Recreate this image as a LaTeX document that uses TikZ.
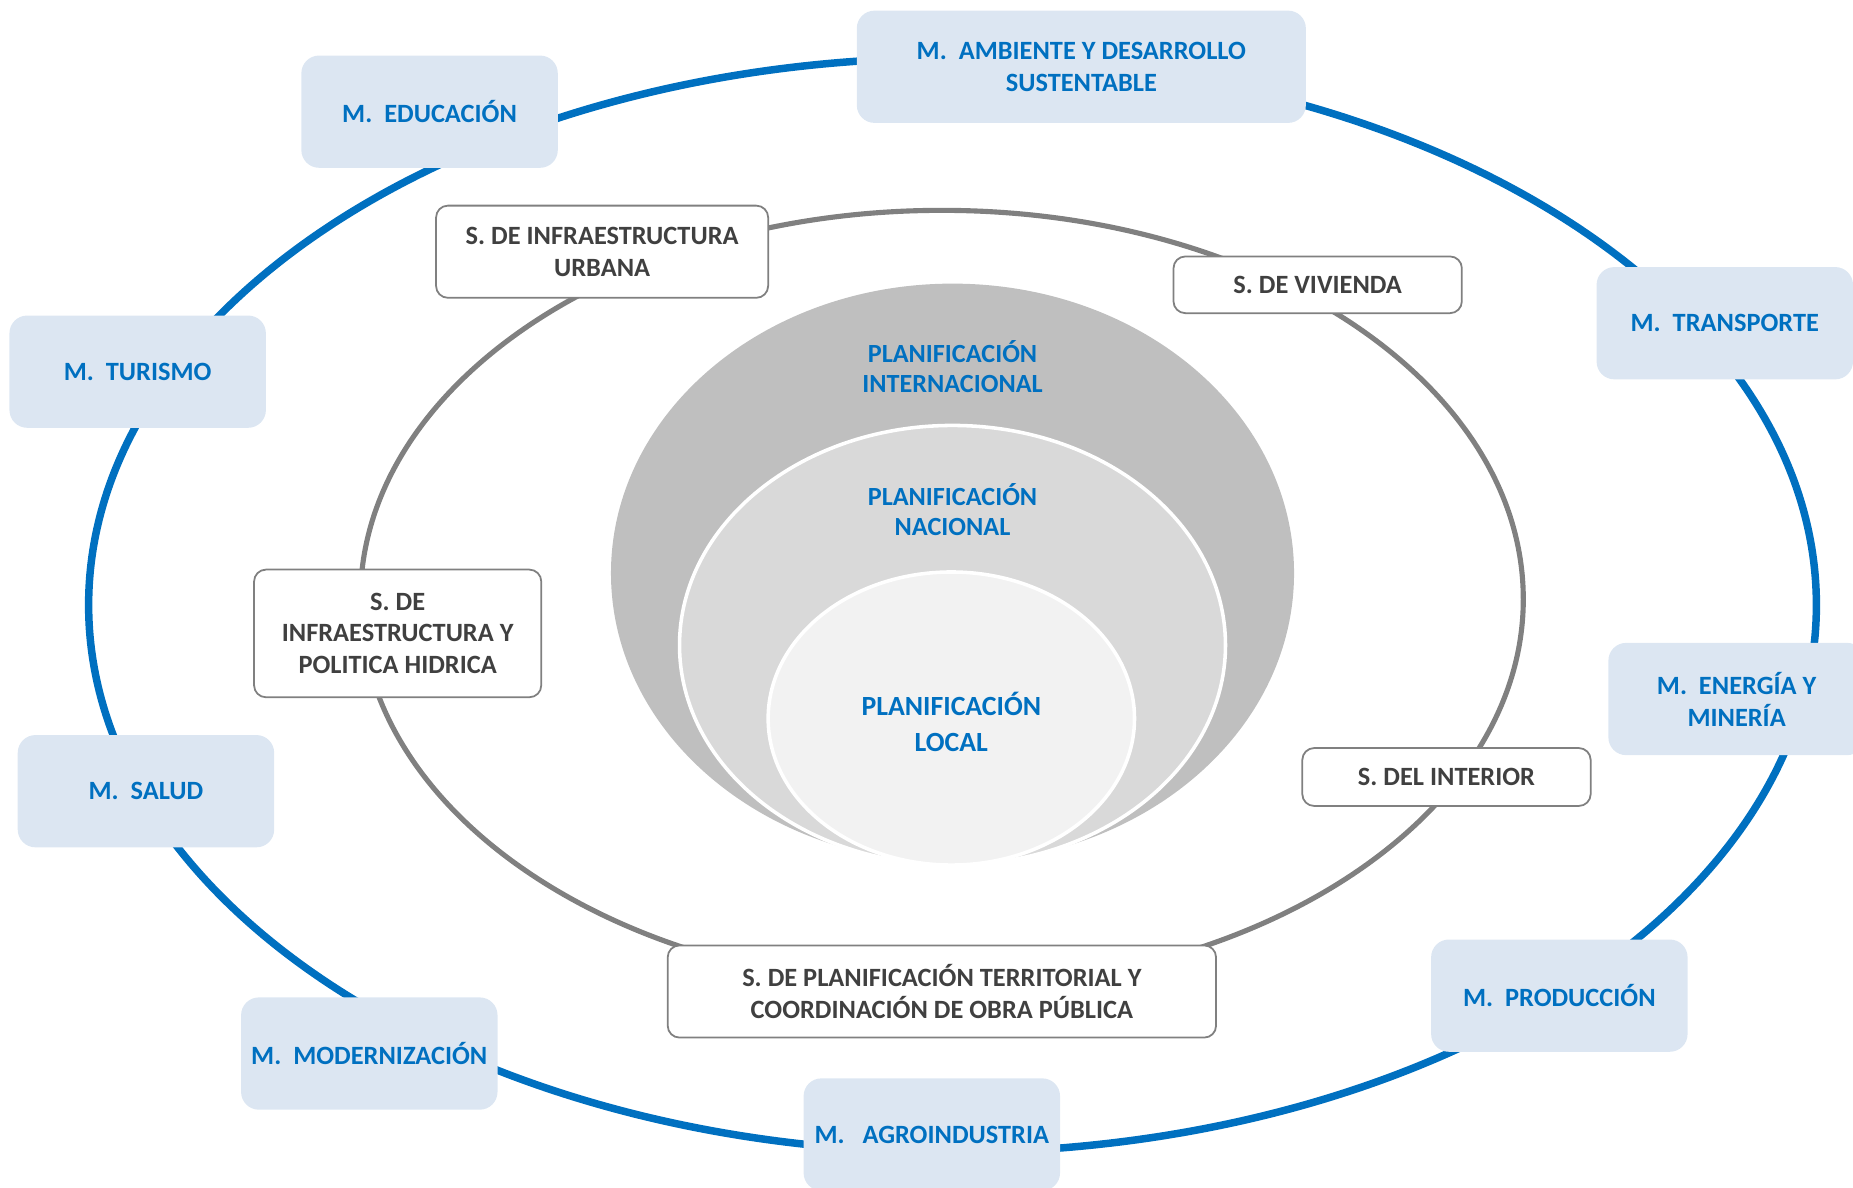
\documentclass[tikz,border=0pt]{standalone}
\usepackage{fontspec}
\setmainfont{Carlito}

\definecolor{azul}{HTML}{0070C0}
\definecolor{azulclaro}{HTML}{DCE6F2}
\definecolor{grislinea}{HTML}{808080}
\definecolor{gristexto}{HTML}{404040}
\definecolor{circulouno}{HTML}{BFBFBF}
\definecolor{circulodos}{HTML}{D9D9D9}
\definecolor{circulotres}{HTML}{F2F2F2}

\tikzset{
    ministerio/.style={fill=azulclaro, rounded corners=9pt, text=azul,
        font=\bfseries\fontsize{13.4}{16.2}\selectfont, align=center,
        minimum width=130.2pt, minimum height=57pt, inner sep=0pt},
    secretaria/.style={draw=grislinea, line width=0.9pt, fill=white,
        rounded corners=6pt, text=gristexto,
        font=\bfseries\fontsize{13.4}{16.2}\selectfont, align=center,
        inner sep=0pt},
    plan/.style={text=azul, font=\bfseries\fontsize{13.3}{15}\selectfont,
        align=center}
}

\begin{document}
\begin{tikzpicture}[x=0.6pt, y=-0.6pt]
    \useasboundingbox (0,0) rectangle (1568,1005);

    \draw[azul, line width=3.8pt] (806,512) ellipse [x radius=731, y radius=463];
    \draw[grislinea, line width=2.6pt] (797,507) ellipse [x radius=492, y radius=329];

    \fill[circulouno] (806,485) ellipse [x radius=289, y radius=245];
    \filldraw[fill=circulodos, draw=white, line width=1.8pt] (806,546) ellipse [x radius=231, y radius=186];
    \filldraw[fill=circulotres, draw=white, line width=1.8pt] (805,608) ellipse [x radius=155, y radius=124];

    \node[plan] (internacional) at (806,310) {PLANIFICACIÓN\\INTERNACIONAL};
    \node[plan] (nacional) at (806,431) {PLANIFICACIÓN\\NACIONAL};
    \node[plan, font=\bfseries\fontsize{14.1}{18}\selectfont] (local) at (805,611) {PLANIFICACIÓN\\LOCAL};

    \node[ministerio] (educacion) at (363.5,94.5) {M.\ \ EDUCACIÓN};
    \node[ministerio, minimum width=228pt] (ambiente) at (915,56.5) {M.\ \ AMBIENTE Y DESARROLLO\\SUSTENTABLE};
    \node[ministerio] (transporte) at (1459.5,273.5) {M.\ \ TRANSPORTE};
    \node[ministerio] (turismo) at (116.5,314.5) {M.\ \ TURISMO};
    \node[ministerio] (energia) at (1469.5,591.5) {M.\ \ ENERGÍA Y\\MINERÍA};
    \node[ministerio] (salud) at (123.5,669.5) {M.\ \ SALUD};
    \node[ministerio] (produccion) at (1319.5,842.5) {M.\ \ PRODUCCIÓN};
    \node[ministerio] (modernizacion) at (312.5,891.5) {M.\ \ MODERNIZACIÓN};
    \node[ministerio] (agroindustria) at (788.5,960) {M.\ \ \ AGROINDUSTRIA};

    \node[secretaria, minimum width=168.6pt, minimum height=46.8pt] (urbana) at (509.5,213) {S. DE INFRAESTRUCTURA\\URBANA};
    \node[secretaria, minimum width=146.4pt, minimum height=28.8pt] (vivienda) at (1115,241) {S. DE VIVIENDA};
    \node[secretaria, minimum width=145.8pt, minimum height=64.8pt] (hidrica) at (336.5,536) {S. DE\\INFRAESTRUCTURA Y\\POLITICA HIDRICA};
    \node[secretaria, minimum width=146.4pt, minimum height=29.4pt] (interior) at (1224,657.5) {S. DEL INTERIOR};
    \node[secretaria, minimum width=278.4pt, minimum height=46.8pt] (territorial) at (797,839) {S. DE PLANIFICACIÓN TERRITORIAL Y\\COORDINACIÓN DE OBRA PÚBLICA};
\end{tikzpicture}
\end{document}
